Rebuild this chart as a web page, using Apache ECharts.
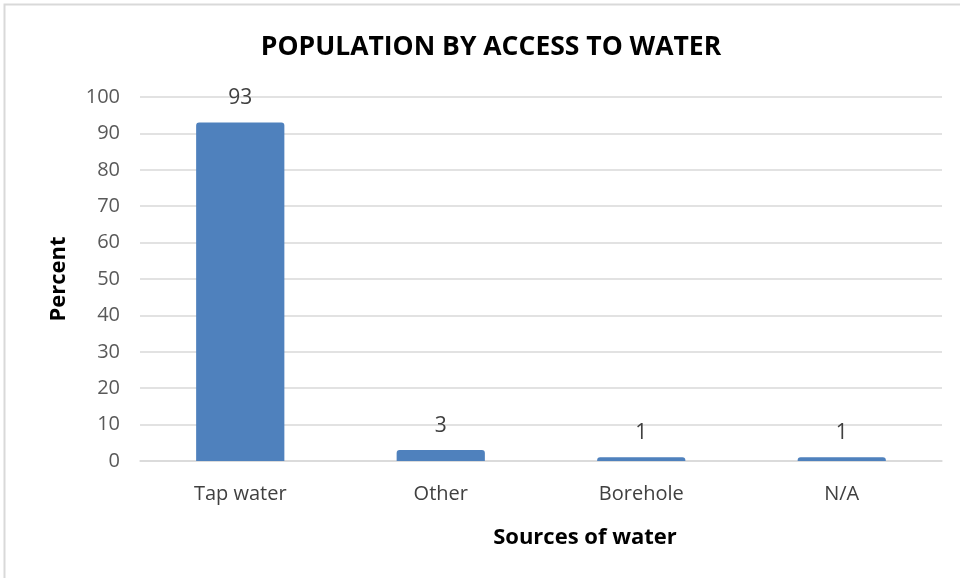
<!DOCTYPE html>
<html>
<head>
<meta charset="utf-8">
<script src="https://cdn.jsdelivr.net/npm/echarts@6/dist/echarts.min.js"></script>
<style>
  html, body { margin: 0; padding: 0; background: #fff; }
  #chart { width: 960px; height: 578px; }
</style>
</head>
<body>
<div id="chart"></div>
<script>
// Share of population by main source of water
const categories = ['Tap water', 'Other', 'Borehole', 'N/A'];
const percentValues = [93, 3, 1, 1];
const yTicks = { min: 0, max: 100, interval: 10 };

const chart = echarts.init(document.getElementById('chart'), null, { renderer: 'canvas' });

chart.setOption({
  animation: false,
  backgroundColor: '#ffffff',
  title: {
    text: 'POPULATION BY ACCESS TO WATER',
    left: 486,
    textAlign: 'center',
    top: 29,
    textStyle: {
      fontFamily: 'Open Sans',
      fontWeight: 'bold',
      fontSize: 26.5,
      color: '#000000'
    }
  },
  graphic: [
    {
      type: 'rect',
      shape: { x: 4.5, y: 4.5, width: 990, height: 600 },
      style: { fill: 'none', stroke: '#d9d9d9', lineWidth: 2 },
      silent: true
    },
    {
      type: 'text',
      x: 585,
      y: 538,
      style: {
        text: 'Sources of water',
        align: 'center',
        verticalAlign: 'middle',
        fontFamily: 'Open Sans',
        fontWeight: 'bold',
        fontSize: 22,
        fill: '#000000'
      }
    }
  ],
  grid: { left: 140, right: 18, top: 97, bottom: 117 },
  xAxis: {
    type: 'category',
    data: categories,
    axisLine: { show: true, lineStyle: { color: '#d9d9d9', width: 1.5 } },
    axisTick: { show: false },
    axisLabel: {
      margin: 23,
      fontFamily: 'Open Sans',
      fontSize: 20,
      color: '#404040'
    }
  },
  yAxis: {
    type: 'value',
    min: yTicks.min,
    max: yTicks.max,
    interval: yTicks.interval,
    name: 'Percent',
    nameLocation: 'middle',
    nameGap: 70,
    nameRotate: 90,
    nameTextStyle: {
      fontFamily: 'Open Sans',
      fontWeight: 'bold',
      fontSize: 22,
      color: '#000000'
    },
    axisLine: { show: false },
    axisTick: { show: false },
    splitLine: { lineStyle: { color: '#d9d9d9', width: 1.5 } },
    axisLabel: {
      margin: 20,
      fontFamily: 'Open Sans',
      fontSize: 20,
      color: '#595959'
    }
  },
  series: [{
    type: 'bar',
    data: percentValues,
    barWidth: '44%',
    itemStyle: { color: '#4f81bd', borderRadius: [3, 3, 0, 0] },
    label: {
      show: true,
      position: 'top',
      distance: 14,
      fontFamily: 'Open Sans',
      fontSize: 21,
      color: '#404040'
    }
  }]
});
</script>
</body>
</html>
